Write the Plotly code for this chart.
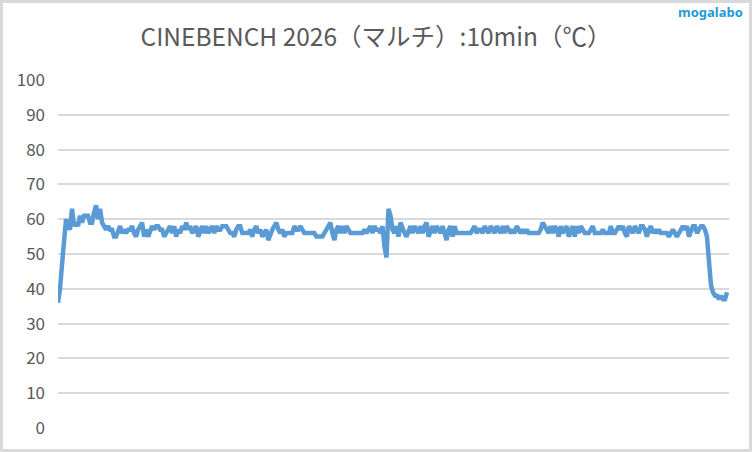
import plotly.graph_objects as go

# Temperature (°C) samples over the 10-minute CINEBENCH 2026 multi-core run
seg_start = [36, 40, 47, 56, 60, 58, 57, 63, 58, 59, 58, 61, 59, 61, 61, 61, 59, 59, 62, 64, 60, 63, 59, 58]
seg_early = [57, 58, 57, 57, 55, 55, 57, 58, 56, 57, 56, 57, 57, 58, 56, 55, 57, 58, 59, 55,
             57, 55, 57, 58, 57, 58, 58, 57, 57, 55, 56, 57, 58, 56, 58, 55, 57, 56, 58, 57,
             59, 57, 58, 56, 57, 58, 55, 57, 58, 56, 58, 56, 57, 58, 56, 58, 57, 57, 58, 58,
             58, 57, 56, 56, 55, 57, 58, 58, 56, 56, 56, 56, 57, 55, 57, 58, 56, 57, 55, 56,
             57, 54, 56, 57, 58, 59, 57, 56]
seg_mid1 = [57, 55, 56, 56, 56, 56, 58, 57, 57, 58, 57, 56, 56, 56, 56, 56, 56, 55, 55, 55,
            55, 56, 57, 58, 59, 56, 54, 57, 58, 56, 58, 56, 58, 57, 56, 56, 56, 56, 56, 56,
            56, 57, 56, 57, 58, 56, 58, 57, 57, 56, 58, 52]
seg_mid2 = [49, 63, 61, 57, 56, 58, 55, 59, 57, 56, 55, 57, 58, 56, 58, 57, 56, 58, 56, 58,
            59, 55, 57, 58, 56, 58, 57, 56, 58, 56, 54, 57, 58, 55, 58, 56, 56, 56, 56, 56,
            56, 56, 56, 57, 58, 56, 57, 57, 56, 58, 57, 56, 58, 57, 56, 58, 57, 56, 58, 56,
            58, 57, 56]
seg_late = [57, 56, 58, 57, 56, 57, 56, 57, 56, 56, 56, 56, 56, 56, 57, 59, 58, 57, 56, 58,
            56, 58, 57, 55, 58, 56, 57, 58, 55, 57, 58, 55, 58, 56, 58, 57, 56, 56, 56, 57,
            58, 56, 56, 56, 56, 57, 56, 56, 56, 58, 56, 56, 57, 58, 57, 58, 56, 55, 58, 57,
            56, 58, 57, 56, 58, 58, 57, 55, 57, 58, 56, 57, 56, 57, 56, 56, 56, 56, 55, 56,
            57, 56, 55, 56, 57, 58, 57, 58, 55, 57, 58, 58, 56, 57, 58, 58, 57, 55]
seg_end = [48, 41, 39, 38, 38, 37, 38, 37, 37, 39]

temps = seg_start + seg_early + seg_mid1 + seg_mid2 + seg_late + seg_end
samples = list(range(len(temps)))

y_ticks = [0, 10, 20, 30, 40, 50, 60, 70, 80, 90, 100]
title_text = "CINEBENCH 2026（マルチ）:10min（℃）"
watermark = "mogalabo"

W, H = 752, 452
ML, MR, MT, MB = 58, 23, 80, 24
PW, PH = W - ML - MR, H - MT - MB

def px_x(p):
    return (p - ML) / PW

def px_y(p):
    return (H - MB - p) / PH

fig = go.Figure()
fig.add_trace(go.Scatter(
    x=samples, y=temps, mode="lines",
    line=dict(color="#5B9BD5", width=4.5),
    hoverinfo="skip", showlegend=False,
))

n = len(temps)
fig.update_layout(
    width=W, height=H,
    margin=dict(l=ML, r=MR, t=MT, b=MB),
    paper_bgcolor="white", plot_bgcolor="white",
    title=dict(text=title_text, x=0.5, xanchor="center", y=1 - 37 / H, yanchor="middle",
               xref="container",
               font=dict(family="Noto Sans CJK JP", size=24.5, color="#595959")),
    xaxis=dict(range=[0, (n - 1) * PW / (727 - 58)], showgrid=False, showticklabels=False,
               zeroline=False, showline=False, ticks=""),
    yaxis=dict(range=[0, 100], tickvals=y_ticks, showgrid=True, gridcolor="#D9D9D9",
               gridwidth=1.5, zeroline=False, showline=False, ticks="",
               ticklabelstandoff=12,
               tickfont=dict(family="Noto Sans CJK JP", size=17, color="#595959")),
    shapes=[dict(type="rect", xref="paper", yref="paper",
                 x0=px_x(1.5), x1=px_x(750.5), y0=px_y(450.5), y1=px_y(1.5),
                 line=dict(color="#D9D9D9", width=3), fillcolor="rgba(0,0,0,0)",
                 layer="above")],
    annotations=[dict(text="<b>" + watermark + "</b>", xref="paper", yref="paper",
                      x=px_x(745), y=px_y(12), xanchor="right", yanchor="middle",
                      showarrow=False,
                      font=dict(family="Noto Sans", size=13, color="#1E9BD7"))],
)

fig.write_html("out.html", config={"displayModeBar": False},
               post_script="document.body.style.margin='0';")
